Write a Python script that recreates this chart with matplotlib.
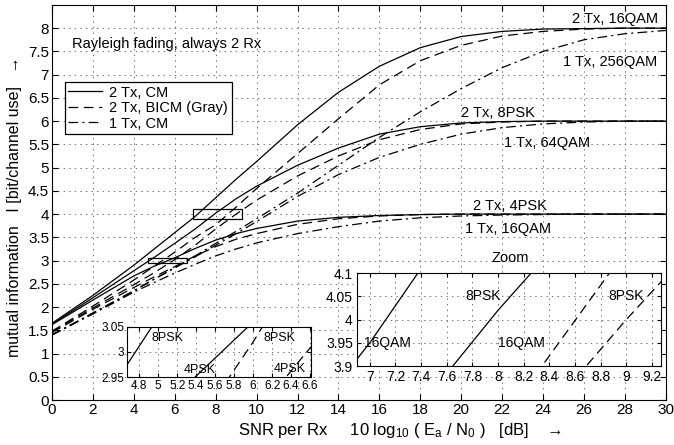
"""
Mutual information vs SNR, Rayleigh fading, 2 Rx
"""
import numpy as np
import matplotlib
matplotlib.use("Agg")
import matplotlib.pyplot as plt
from matplotlib.patches import Rectangle

plt.rcParams['font.family'] = ['Liberation Sans', 'DejaVu Sans']
plt.rcParams['mathtext.default'] = 'regular'
plt.rcParams['lines.scale_dashes'] = False

# SNR grid [dB]
v_snr = [0, 2, 4, 5, 6, 7, 8, 9, 10, 12, 14, 16, 18, 20, 22, 24, 26, 28, 30]

# 2 Tx, CM (solid)
v_cm2_16qam = [1.65, 2.25, 2.90, 3.25, 3.60, 3.95, 4.35, 4.75, 5.13, 5.92, 6.62, 7.18, 7.58, 7.82, 7.93, 7.98, 7.99, 8.00, 8.00]
v_cm2_8psk = [1.63, 2.20, 2.78, 3.07, 3.37, 3.68, 4.02, 4.33, 4.60, 5.05, 5.42, 5.72, 5.88, 5.96, 5.99, 6.00, 6.00, 6.00, 6.00]
v_cm2_4psk = [1.62, 2.15, 2.67, 2.88, 3.06, 3.26, 3.44, 3.58, 3.69, 3.85, 3.93, 3.97, 3.99, 4.00, 4.00, 4.00, 4.00, 4.00, 4.00]

# 2 Tx, BICM Gray (dashed)
v_bicm2_16qam = [1.48, 2.02, 2.58, 2.88, 3.18, 3.50, 3.77, 4.15, 4.55, 5.30, 6.05, 6.78, 7.30, 7.63, 7.83, 7.93, 7.98, 8.00, 8.00]
v_bicm2_8psk = [1.47, 1.98, 2.48, 2.74, 3.02, 3.33, 3.68, 4.00, 4.30, 4.82, 5.25, 5.60, 5.82, 5.94, 5.98, 6.00, 6.00, 6.00, 6.00]
v_bicm2_4psk = [1.45, 1.95, 2.42, 2.65, 2.87, 3.10, 3.30, 3.46, 3.58, 3.78, 3.90, 3.96, 3.99, 4.00, 4.00, 4.00, 4.00, 4.00, 4.00]

# 1 Tx, CM (dash-dot)
v_cm1_256qam = [1.40, 1.87, 2.35, 2.60, 2.85, 3.10, 3.37, 3.63, 3.90, 4.45, 5.05, 5.65, 6.20, 6.70, 7.15, 7.50, 7.75, 7.88, 7.95]
v_cm1_64qam = [1.40, 1.87, 2.35, 2.60, 2.84, 3.08, 3.33, 3.58, 3.84, 4.38, 4.85, 5.22, 5.50, 5.72, 5.86, 5.94, 5.98, 6.00, 6.00]
v_cm1_16qam = [1.40, 1.85, 2.32, 2.53, 2.73, 2.92, 3.10, 3.25, 3.38, 3.58, 3.73, 3.85, 3.92, 3.96, 3.98, 3.99, 4.00, 4.00, 4.00]

s_dash = (0, (7, 4))
s_dashdot = (0, (7, 3, 1.5, 3))
c_line = 'black'
lw = 0.9

fig = plt.figure(figsize=(6.74, 4.45), dpi=100)
ax = fig.add_axes([0.077, 0.101, 0.911, 0.888])

ax.plot(v_snr, v_cm2_16qam, color=c_line, lw=lw, ls='-', label='2 Tx, CM')
ax.plot(v_snr, v_bicm2_16qam, color=c_line, lw=lw, ls=s_dash, label='2 Tx, BICM (Gray)')
ax.plot(v_snr, v_cm1_256qam, color=c_line, lw=lw, ls=s_dashdot, label='1 Tx, CM')
ax.plot(v_snr, v_cm2_8psk, color=c_line, lw=lw, ls='-')
ax.plot(v_snr, v_bicm2_8psk, color=c_line, lw=lw, ls=s_dash)
ax.plot(v_snr, v_cm1_64qam, color=c_line, lw=lw, ls=s_dashdot)
ax.plot(v_snr, v_cm2_4psk, color=c_line, lw=lw, ls='-')
ax.plot(v_snr, v_bicm2_4psk, color=c_line, lw=lw, ls=s_dash)
ax.plot(v_snr, v_cm1_16qam, color=c_line, lw=lw, ls=s_dashdot)

# zoom boxes
ax.add_patch(Rectangle((4.7, 2.95), 1.9, 0.1, fill=False, ec='black', lw=0.9))
ax.add_patch(Rectangle((6.9, 3.9), 2.37, 0.2, fill=False, ec='black', lw=0.9))

ax.set_xlim(0, 30)
ax.set_ylim(0, 8.5)
ax.set_xticks(np.arange(0, 31, 2))
ax.set_yticks(np.arange(0, 8.01, 0.5))
ax.set_yticklabels([f'{v:g}' for v in np.arange(0, 8.01, 0.5)])
ax.tick_params(direction='in', top=True, right=True, labelsize=11, length=4, pad=2)
ax.grid(True, color='0.35', ls=(0, (1, 3)), lw=0.6)
ax.set_xlabel('SNR per Rx     10 log$_{10}$ ( E$_a$ / N$_0$ )   [dB]    →', fontsize=12)
ax.xaxis.set_label_coords(0.567, -0.053)
ax.set_ylabel('mutual information   I [bit/channel use]   →', fontsize=11.5)
ax.yaxis.set_label_coords(-0.049, 0.489)

leg = ax.legend(loc='upper left', bbox_to_anchor=(0.021, 0.805), fontsize=10.5,
                fancybox=False, framealpha=1, edgecolor='black', handlelength=2.3,
                borderpad=0.25, labelspacing=0.1, borderaxespad=0, handletextpad=0.5)
leg.get_frame().set_linewidth(0.9)

f_txt = 10.5
ax.text(1.0, 7.65, 'Rayleigh fading, always 2 Rx', fontsize=f_txt, va='center')
ax.text(29.6, 8.2, '2 Tx, 16QAM', fontsize=f_txt, ha='right', va='center')
ax.text(29.6, 7.28, '1 Tx, 256QAM', fontsize=f_txt, ha='right', va='center')
ax.text(21.8, 6.17, '2 Tx, 8PSK', fontsize=f_txt, ha='center', va='center')
ax.text(24.2, 5.54, '1 Tx, 64QAM', fontsize=f_txt, ha='center', va='center')
ax.text(22.4, 4.18, '2 Tx, 4PSK', fontsize=f_txt, ha='center', va='center')
ax.text(22.3, 3.69, '1 Tx, 16QAM', fontsize=f_txt, ha='center', va='center')
ax.text(22.4, 3.06, 'Zoom', fontsize=f_txt, ha='center', va='center')

# inset 1: around 3 bit
ax1 = fig.add_axes([0.1884, 0.1528, 0.273, 0.1124])
ax1.plot(v_snr, v_cm2_8psk, color=c_line, lw=lw, ls='-')
ax1.plot(v_snr, v_cm2_4psk, color=c_line, lw=lw, ls='-')
ax1.plot(v_snr, v_bicm2_8psk, color=c_line, lw=lw, ls=s_dash)
ax1.plot(v_snr, v_bicm2_4psk, color=c_line, lw=lw, ls=s_dash)
ax1.set_xlim(4.67, 6.61)
ax1.set_ylim(2.95, 3.05)
ax1.set_xticks(np.arange(4.8, 6.61, 0.2))
ax1.set_xticklabels([f'{v:g}' for v in np.round(np.arange(4.8, 6.61, 0.2), 1)])
ax1.set_yticks([2.95, 3.0, 3.05])
ax1.set_yticklabels(['2.95', '3', '3.05'])
ax1.tick_params(direction='in', top=True, right=True, labelsize=8.5, length=3, pad=2)
ax1.grid(True, color='0.35', ls=(0, (1, 3)), lw=0.6)
f_in = 9
ax1.text(5.1, 3.028, '8PSK', fontsize=f_in, ha='center', va='center')
ax1.text(5.44, 2.964, '4PSK', fontsize=f_in, ha='center', va='center')
ax1.text(6.28, 3.028, '8PSK', fontsize=f_in, ha='center', va='center')
ax1.text(6.39, 2.966, '4PSK', fontsize=f_in, ha='center', va='center')

# inset 2: around 4 bit
ax2 = fig.add_axes([0.5297, 0.1775, 0.451, 0.209])
ax2.plot(v_snr, v_cm2_16qam, color=c_line, lw=lw, ls='-')
ax2.plot(v_snr, v_cm2_8psk, color=c_line, lw=lw, ls='-')
ax2.plot(v_snr, v_bicm2_16qam, color=c_line, lw=lw, ls=s_dash)
ax2.plot(v_snr, v_bicm2_8psk, color=c_line, lw=lw, ls=s_dash)
ax2.set_xlim(6.9, 9.27)
ax2.set_ylim(3.9, 4.1)
ax2.set_xticks(np.arange(7.0, 9.21, 0.2))
ax2.set_xticklabels([f'{v:g}' for v in np.round(np.arange(7.0, 9.21, 0.2), 1)])
ax2.set_yticks([3.9, 3.95, 4.0, 4.05, 4.1])
ax2.set_yticklabels(['3.9', '3.95', '4', '4.05', '4.1'])
ax2.tick_params(direction='in', top=True, right=True, labelsize=10, length=3, pad=3)
ax2.grid(True, color='0.35', ls=(0, (1, 3)), lw=0.6)
ax2.text(7.14, 3.95, '16QAM', fontsize=10, ha='center', va='center')
ax2.text(7.88, 4.05, '8PSK', fontsize=10, ha='center', va='center')
ax2.text(8.18, 3.95, '16QAM', fontsize=10, ha='center', va='center')
ax2.text(9.0, 4.05, '8PSK', fontsize=10, ha='center', va='center')

plt.savefig('out.png', dpi=100)
